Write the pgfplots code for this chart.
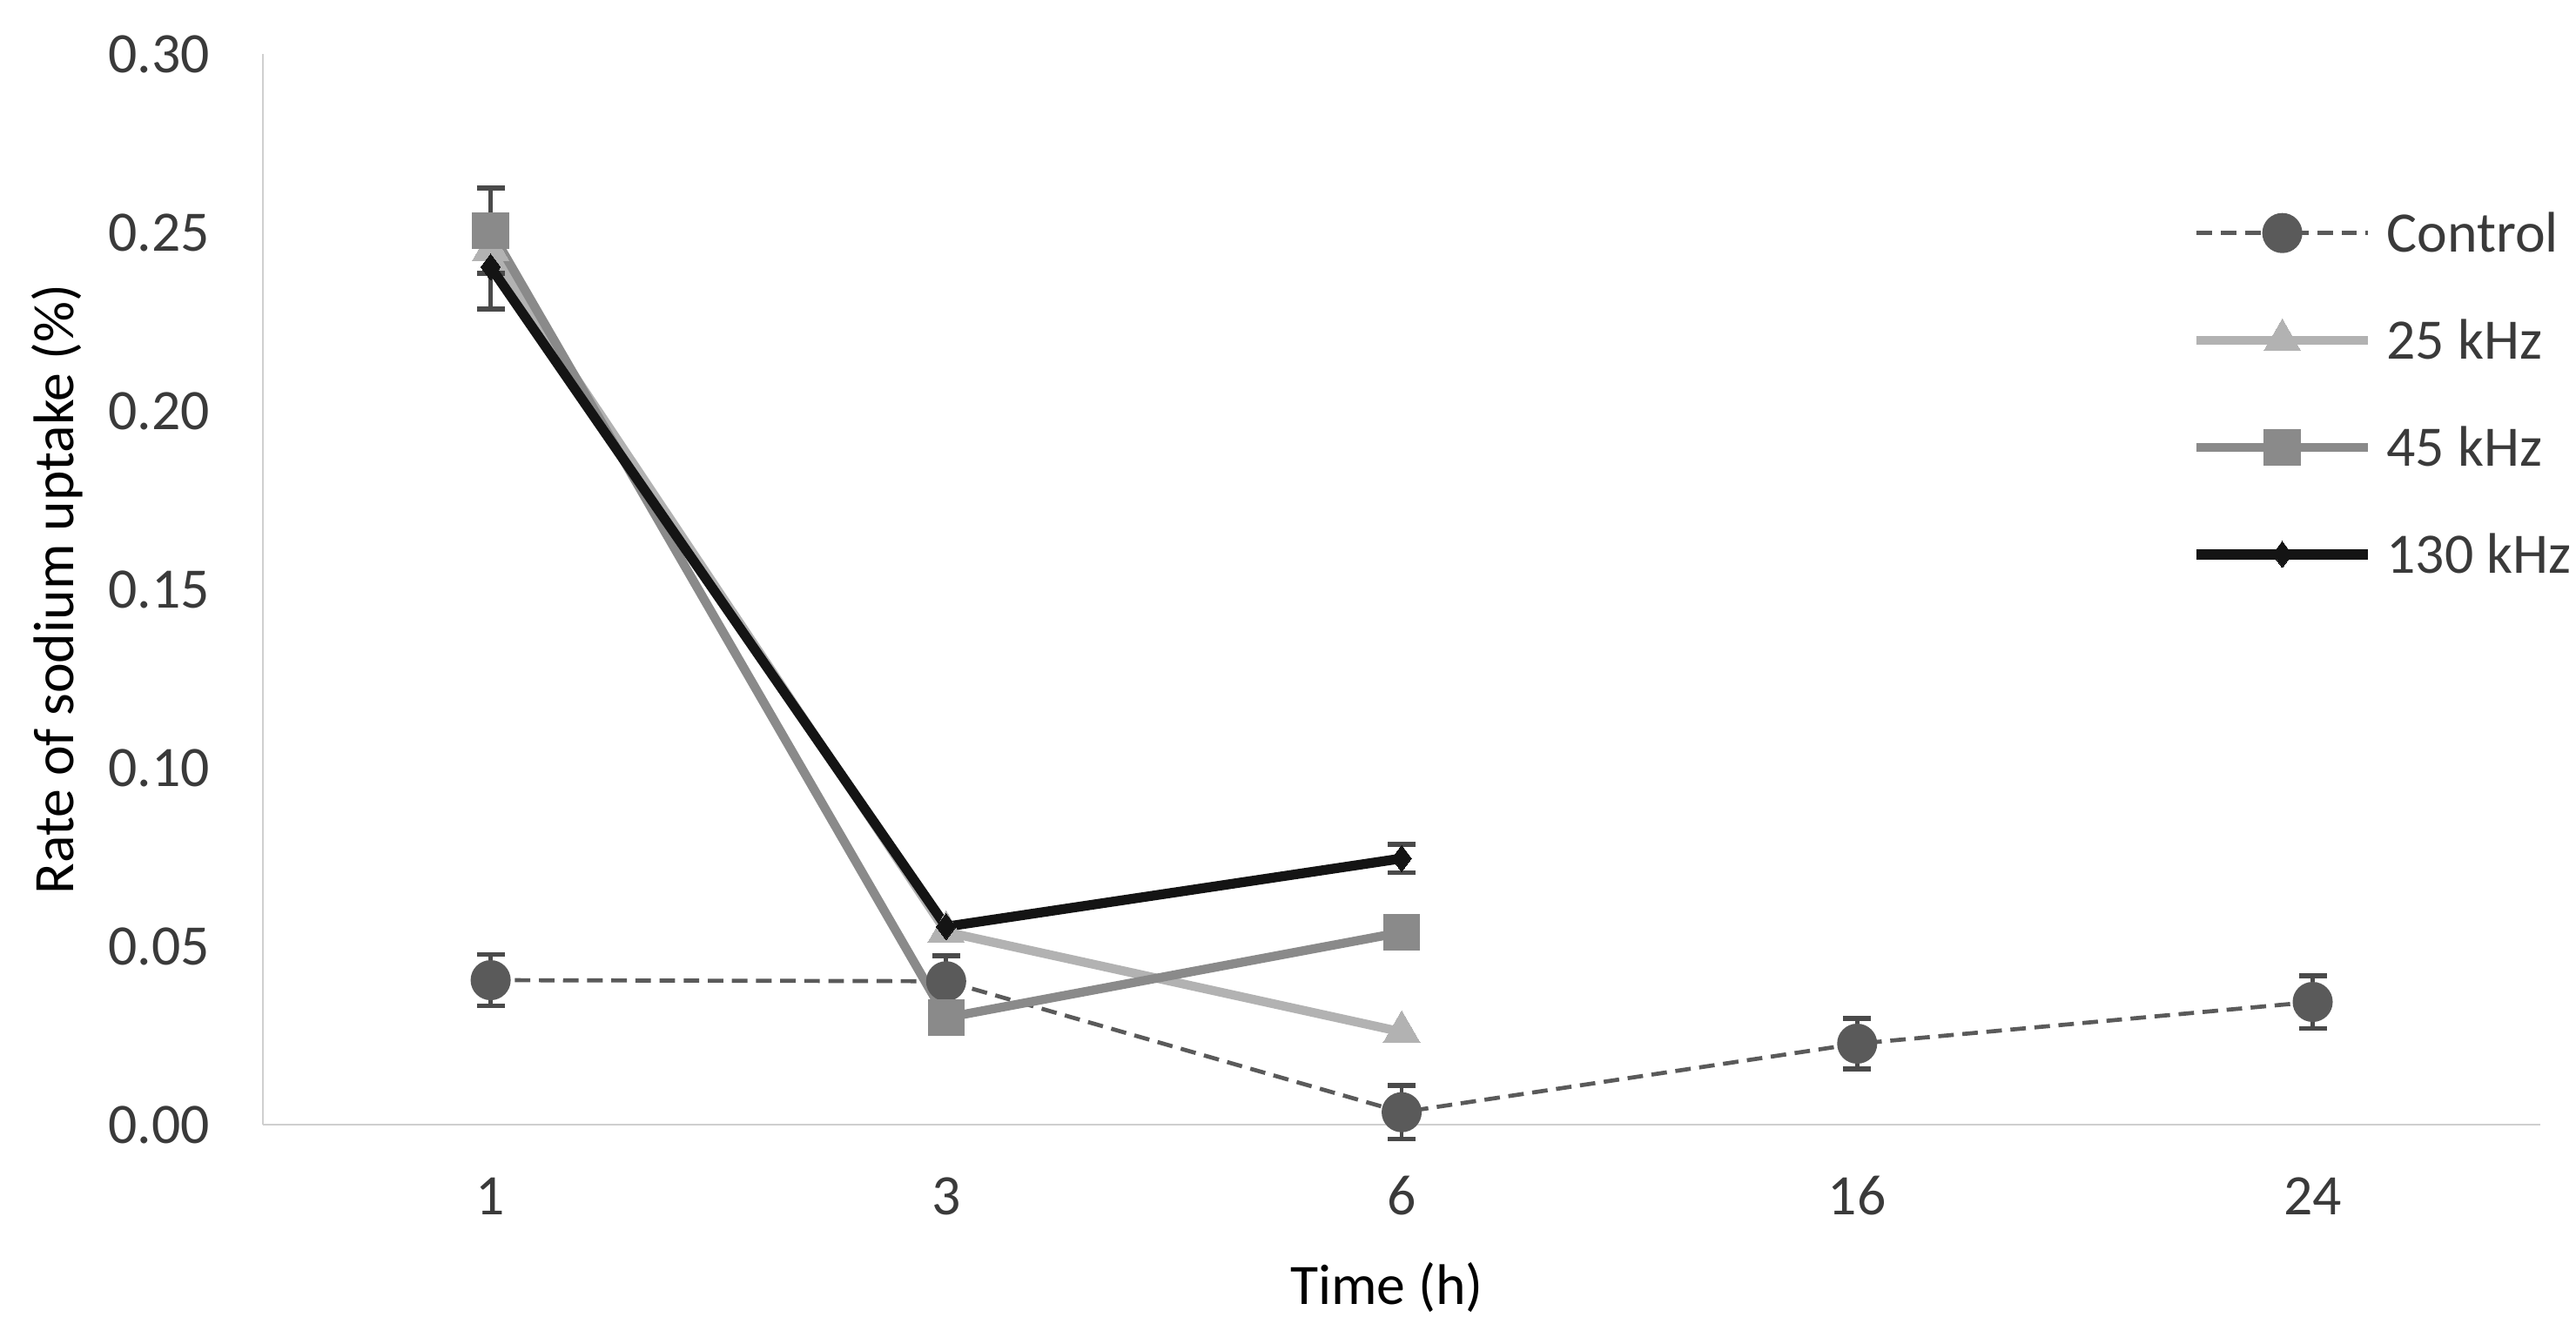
\documentclass[border=0pt]{standalone}
\usepackage{fontspec}
\setmainfont{Carlito}
\usepackage{pgfplots}
\pgfplotsset{compat=1.18}
\definecolor{ctrl}{HTML}{5A5A5A}
\definecolor{k25}{HTML}{B2B2B2}
\definecolor{k45}{HTML}{8A8A8A}
\definecolor{k130}{HTML}{141414}
\definecolor{errc}{HTML}{4A4A4A}
\definecolor{axc}{HTML}{CFCFCF}
\definecolor{txt}{HTML}{3A3A3A}
\begin{document}
\fontsize{14}{17}\selectfont
\begin{tikzpicture}
\begin{axis}[
  at={(0,0)}, anchor=south west,
  scale only axis, width=557pt, height=261.9pt,
  xmin=-0.5, xmax=4.5, ymin=0, ymax=0.30,
  xtick={0,1,2,3,4}, xticklabels={1,3,6,16,24},
  ytick={0,0.05,0.10,0.15,0.20,0.25,0.30},
  yticklabel style={/pgf/number format/fixed, /pgf/number format/fixed zerofill, /pgf/number format/precision=2},
  /pgf/number format/assume math mode=true,
  axis x line*=bottom, axis y line*=left,
  x axis line style={draw=axc, line width=0.6pt},
  y axis line style={draw=axc, line width=0.6pt},
  major tick length=0pt,
  tick style={draw=none},
  xticklabel style={anchor=base, yshift=-22.1pt, text=txt, font=\fontsize{14}{17}\selectfont},
  yticklabel style={anchor=east, inner sep=0pt, xshift=-12.8pt, text=txt, font=\fontsize{14}{17}\selectfont},
  xlabel={Time (h)},
  ylabel={Rate of sodium uptake (\%)},
  xlabel style={at={(axis description cs:0.4935,-0.168)}, anchor=base, text=black, font=\fontsize{14}{17}\selectfont},
  ylabel style={at={(axis description cs:-0.0903,0.5)}, anchor=center, text=black, font=\fontsize{14}{17}\selectfont},
  clip=false,
  legend cell align=left,
  legend image code/.code={\draw[mark repeat=2, mark phase=2, #1, yshift=4.7pt] plot coordinates {(0pt,0pt) (20.95pt,0pt) (41.9pt,0pt)};},
  legend style={draw=none, fill=none, inner sep=0pt, outer sep=0pt,
    at={(rel axis cs:0.8469,0.853)}, anchor=north west,
    row sep=15.2pt, column sep=3.4pt,
    nodes={inner sep=0pt, text height=10pt, text depth=1pt, anchor=base west, text=txt, font=\fontsize{14}{17}\selectfont}},
]
% Control
\addplot[ctrl, line width=1pt, dash pattern=on 3.8pt off 2.1pt, mark=*, mark size=4.4pt, mark options={solid, fill=ctrl, draw=ctrl}]
  table[x=x, y=y] {
x y
0 0.0405
1 0.0402
2 0.0035
3 0.0227
4 0.0344
};
\addlegendentry{Control}
\addplot[forget plot, draw=none, no marks, error bars/.cd, y dir=both, y explicit,
  error bar style={draw=errc, line width=1pt, solid},
  error mark options={rotate=90, mark size=3.4pt, line width=1.2pt, draw=errc}]
  table[x=x, y=y, y error=e] {
x y e
0 0.0405 0.0072
1 0.0402 0.0071
2 0.0035 0.0075
3 0.0227 0.0070
4 0.0344 0.0074
};
% 25 kHz
\addplot[k25, line width=2.2pt, mark=triangle*, mark size=5.2pt, mark options={solid, fill=k25, draw=k25, line width=0pt}]
  table[x=x, y=y] {
x y
0 0.245
1 0.054
2 0.026
};
\addlegendentry{25 kHz}
% 45 kHz
\addplot[k45, line width=2.2pt, mark=square*, mark size=4.4pt, mark options={solid, fill=k45, draw=k45, line width=0pt}]
  table[x=x, y=y] {
x y
0 0.2505
1 0.0300
2 0.0539
};
\addlegendentry{45 kHz}
\addplot[forget plot, draw=none, no marks, error bars/.cd, y dir=both, y explicit,
  error bar style={draw=errc, line width=1pt, solid},
  error mark options={rotate=90, mark size=3.4pt, line width=1.2pt, draw=errc}]
  table[x=x, y=y, y error=e] {
x y e
0 0.2505 0.0120
};
% 130 kHz
\addplot[k130, line width=2.4pt, mark=diamond*, mark size=3.2pt, mark options={solid, fill=k130, draw=k130, line width=0pt}]
  table[x=x, y=y] {
x y
0 0.2403
1 0.0555
2 0.0746
};
\addlegendentry{130 kHz}
\addplot[forget plot, draw=none, no marks, error bars/.cd, y dir=both, y explicit,
  error bar style={draw=errc, line width=1pt, solid},
  error mark options={rotate=90, mark size=3.4pt, line width=1.2pt, draw=errc}]
  table[x=x, y=y, y error=e] {
x y e
0 0.2403 0.0117
2 0.0746 0.0040
};
\end{axis}
\pgfresetboundingbox
\useasboundingbox (-64.3pt,-53.5pt) rectangle (565.7pt,275.1pt);
\end{tikzpicture}
\end{document}
